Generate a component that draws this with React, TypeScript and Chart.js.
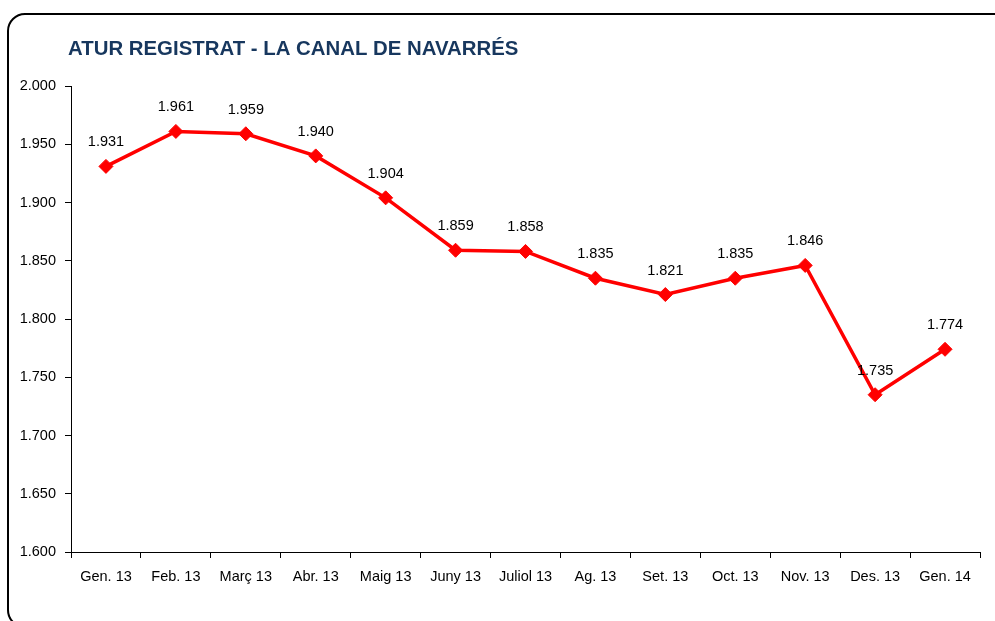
import React, { useEffect, useRef } from "react";
import { Chart, registerables } from "chart.js";

Chart.register(...registerables);

const TITLE = "ATUR REGISTRAT - LA CANAL DE NAVARRÉS";
const categories = [
  "Gen. 13", "Feb. 13", "Març 13", "Abr. 13", "Maig 13", "Juny 13", "Juliol 13",
  "Ag. 13", "Set. 13", "Oct. 13", "Nov. 13", "Des. 13", "Gen. 14",
];
const values = [1931, 1961, 1959, 1940, 1904, 1859, 1858, 1835, 1821, 1835, 1846, 1735, 1774];
const yMin = 1600;
const yMax = 2000;
const yStep = 50;

const FONT = "'Liberation Sans', Arial, sans-serif";

function fmt(v: number): string {
  const n = Math.round(v);
  const th = Math.floor(n / 1000);
  const rest = String(n % 1000).padStart(3, "0");
  return th > 0 ? `${th}.${rest}` : String(n);
}

const overlayPlugin = {
  id: "overlay",
  afterDatasetsDraw(chart: any) {
    const ctx = chart.ctx;
    ctx.save();
    // title
    ctx.font = `bold 20.4px ${FONT}`;
    ctx.fillStyle = "#17375E";
    ctx.textAlign = "left";
    ctx.textBaseline = "alphabetic";
    ctx.fillText(TITLE, 68, 55);
    // data labels
    const meta = chart.getDatasetMeta(0);
    ctx.font = `14.5px ${FONT}`;
    ctx.fillStyle = "#000";
    ctx.textAlign = "center";
    ctx.textBaseline = "middle";
    meta.data.forEach((pt: any, i: number) => {
      ctx.fillText(fmt(values[i]), pt.x, pt.y - 24);
    });
    ctx.restore();
  },
};

export default function App() {
  const ref = useRef<HTMLCanvasElement>(null);
  useEffect(() => {
    if (!ref.current) return;
    const chart = new Chart(ref.current, {
      type: "line",
      data: {
        labels: categories,
        datasets: [
          {
            data: values,
            borderColor: "#FF0000",
            backgroundColor: "#FF0000",
            borderWidth: 3.5,
            pointStyle: "rectRot",
            pointRadius: 7,
            pointBorderWidth: 1,
            pointBackgroundColor: "#FF0000",
            pointBorderColor: "#FF0000",
            tension: 0,
            clip: false as any,
          },
        ],
      },
      options: {
        responsive: false,
        animation: false,
        devicePixelRatio: 1,
        layout: { padding: { left: 8, right: 15, top: 86, bottom: 29 } },
        plugins: {
          legend: { display: false },
          title: { display: false },
          tooltip: { enabled: false },
        },
        scales: {
          x: {
            type: "category",
            offset: true,
            grid: {
              display: true,
              offset: true,
              drawOnChartArea: false,
              drawTicks: true,
              tickLength: 6,
              color: "#000",
            },
            border: { display: true, color: "#000", width: 1 },
            ticks: {
              color: "#000",
              font: { family: FONT, size: 14.5 },
              padding: 10,
              maxRotation: 0,
              autoSkip: false,
            },
            afterFit: (s: any) => {
              s.height = 40;
            },
          },
          y: {
            min: yMin,
            max: yMax,
            grid: {
              display: true,
              drawOnChartArea: false,
              drawTicks: true,
              tickLength: 6,
              color: "#000",
            },
            border: { display: true, color: "#000", width: 1 },
            ticks: {
              stepSize: yStep,
              color: "#000",
              font: { family: FONT, size: 14.5 },
              padding: 9,
              callback: (v: any) => fmt(Number(v)),
            },
            afterFit: (s: any) => {
              s.width = 63;
            },
          },
        },
      },
      plugins: [overlayPlugin],
    });
    return () => chart.destroy();
  }, []);

  return (
    <div
      style={{
        position: "fixed",
        left: 0,
        top: 0,
        width: 995,
        height: 621,
        overflow: "hidden",
        background: "#fff",
      }}
    >
      <div
        style={{
          position: "absolute",
          left: 7,
          top: 13,
          width: 1010,
          height: 615,
          border: "2px solid #000",
          borderRadius: 18,
          boxSizing: "border-box",
        }}
      />
      <canvas
        ref={ref}
        width={995}
        height={621}
        style={{ position: "absolute", left: 0, top: 0, width: 995, height: 621 }}
      />
    </div>
  );
}
